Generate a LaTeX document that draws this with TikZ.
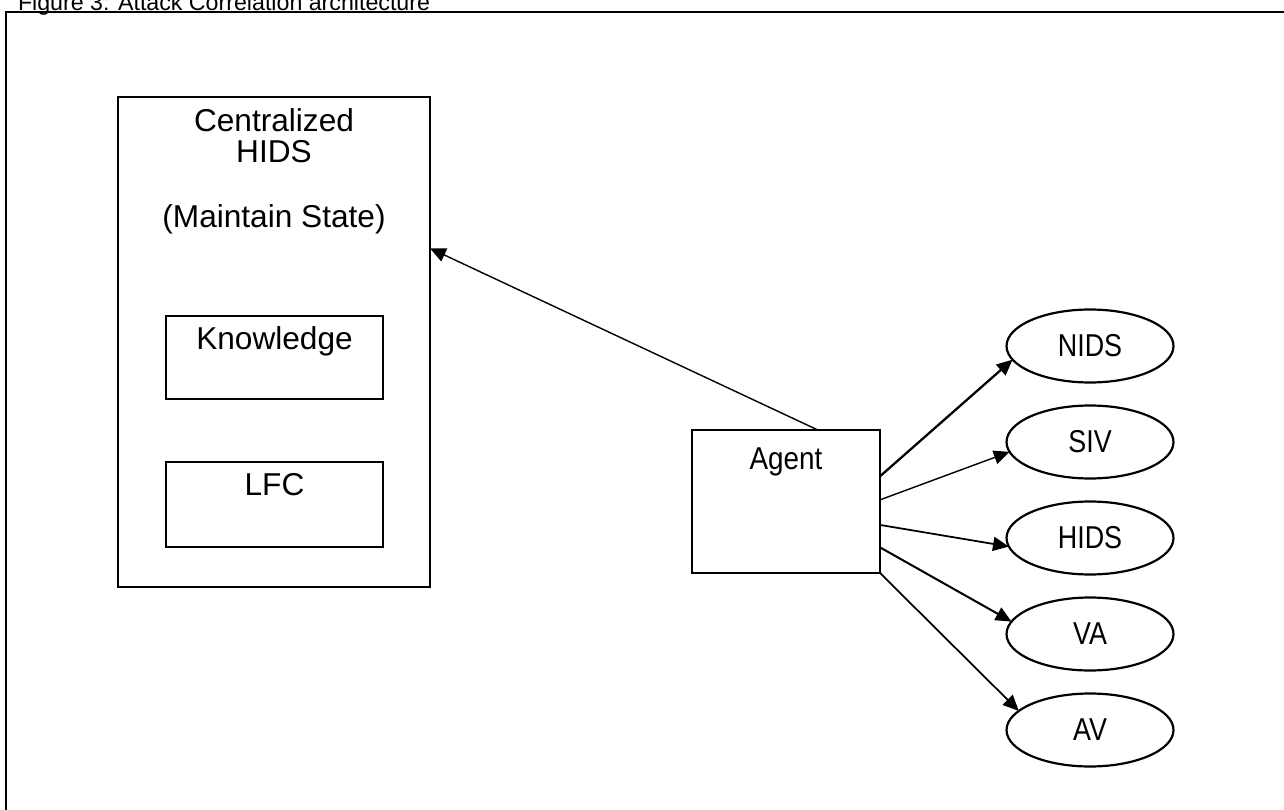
\documentclass[tikz,border=0pt]{standalone}
\usepackage{fontspec}
\setmainfont{Liberation Sans}
\usetikzlibrary{arrows.meta,shapes.geometric}
\newcommand{\narrowtext}[2][0.85]{\scalebox{#1}[1]{#2}}
\begin{document}
\begin{tikzpicture}[x=0.02cm, y=-0.02cm, every node/.style={inner sep=0pt, outer sep=0pt},
	lbl/.style={anchor=base, font=\fontsize{18}{20}\selectfont},
	box/.style={draw, line width=1.25pt},
	oval/.style={draw, ellipse, line width=1.25pt, minimum width=3.34cm, minimum height=1.46cm, font=\fontsize{18}{20}\selectfont},
	arr/.style={-{Triangle[length=9pt,width=8pt]}, line width=0.8pt},
	thickarr/.style={arr, line width=1.3pt}]
				\useasboundingbox (0,0) rectangle (1284,810);
				\node[anchor=base west, font=\fontsize{13.2}{15}\selectfont] (ttl) at (18,11) {Figure 3: Attack Correlation architecture};
				\draw[line width=1.4pt] (6,830) -- (6,12) -- (1300,12);
				% left side
				\node[box, minimum width=6.24cm, minimum height=9.8cm] (ch) at (274,342) {};
				\node[lbl] (ch1) at (274,132) {Centralized};
				\node[lbl] (ch2) at (274,163) {HIDS};
				\node[lbl] (ch3) at (274,228) {(Maintain State)};
				\node[box, minimum width=4.34cm, minimum height=1.66cm] (kn) at (274.5,357.5) {};
				\node[lbl] (kn1) at (274.5,350) {Knowledge};
				\node[box, minimum width=4.34cm, minimum height=1.7cm] (lfc) at (274.5,504.5) {};
				\node[lbl] (lfc1) at (274.5,496) {LFC};
				% agent
				\node[box, minimum width=3.76cm, minimum height=2.86cm] (ag) at (786,501.5) {};
				\node[lbl] (ag1) at (786,469) {\narrowtext[0.88]{Agent}};
				% sensors
				\node[oval] (nids) at (1090,346) {\narrowtext{NIDS}};
				\node[oval] (siv) at (1090,442) {\narrowtext{SIV}};
				\node[oval] (hids) at (1090,538) {\narrowtext{HIDS}};
				\node[oval] (va) at (1090,634) {\narrowtext{VA}};
				\node[oval] (av) at (1090,730) {\narrowtext{AV}};
				\draw[arr] (ag.66.6) -- (ch.31.1);
				\draw[thickarr] (ag.15.7) -- (nids.190.2);
				\draw[arr] (ag.1) -- (siv.187.4);
				\draw[arr, line width=1pt] (ag.-14.6) -- (hids.186.7);
				\draw[arr, line width=1.15pt] (ag.-26.8) -- (va.171.3);
				\draw[arr, line width=1pt] (ag.south east) -- (av.165.8);
			\end{tikzpicture}
\end{document}
